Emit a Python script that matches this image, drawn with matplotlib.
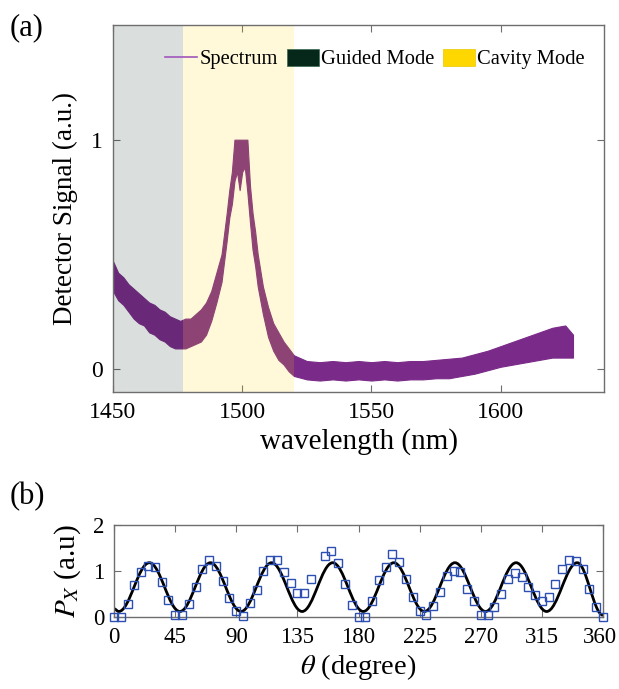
import numpy as np
import matplotlib
matplotlib.use("Agg")
import matplotlib.pyplot as plt
from matplotlib.lines import Line2D
from matplotlib.patches import Patch, PathPatch
from matplotlib.path import Path
from matplotlib.transforms import ScaledTranslation

plt.rcParams['font.family'] = ['Liberation Serif', 'DejaVu Serif']
plt.rcParams['mathtext.fontset'] = 'stix'

# ---- (a) spectrum: lower / upper edges of the noisy detector trace ----
wavelength = [1450, 1452, 1454, 1456, 1458, 1460, 1462, 1464, 1466, 1468,
              1470, 1472, 1474, 1476, 1478, 1480, 1482, 1484, 1486, 1488,
              1490, 1492, 1494, 1495, 1496, 1497, 1498, 1499, 1500, 1501,
              1502, 1503, 1504, 1505, 1506, 1508, 1510, 1512, 1514, 1516,
              1518, 1520, 1525, 1530, 1535, 1540, 1545, 1550, 1555, 1560,
              1565, 1570, 1575, 1580, 1585, 1590, 1595, 1600, 1605, 1610,
              1615, 1620, 1625, 1628]
signal_high = [0.47, 0.42, 0.40, 0.37, 0.35, 0.33, 0.31, 0.29, 0.28, 0.26,
               0.25, 0.23, 0.22, 0.21, 0.22, 0.22, 0.24, 0.26, 0.29, 0.34,
               0.42, 0.50, 0.68, 0.78, 0.86, 1.00, 1.00, 1.00, 1.00, 1.00,
               1.00, 0.80, 0.68, 0.60, 0.50, 0.36, 0.27, 0.20, 0.16, 0.12,
               0.09, 0.06, 0.035, 0.03, 0.035, 0.03, 0.035, 0.03, 0.035, 0.03,
               0.035, 0.035, 0.04, 0.045, 0.05, 0.065, 0.08, 0.10, 0.12, 0.14,
               0.16, 0.18, 0.19, 0.15]
signal_low = [0.34, 0.30, 0.28, 0.25, 0.22, 0.20, 0.19, 0.16, 0.15, 0.13,
              0.12, 0.10, 0.09, 0.09, 0.09, 0.10, 0.11, 0.12, 0.15, 0.21,
              0.29, 0.38, 0.56, 0.66, 0.72, 0.82, 0.86, 0.78, 0.86, 0.88,
              0.77, 0.64, 0.52, 0.45, 0.36, 0.24, 0.14, 0.08, 0.04, 0.02,
              -0.01, -0.03, -0.045, -0.05, -0.045, -0.05, -0.045, -0.05, -0.045, -0.05,
              -0.045, -0.045, -0.04, -0.04, -0.03, -0.02, -0.005, 0.01, 0.02, 0.03,
              0.04, 0.05, 0.05, 0.05]
guided_band = (1450, 1477)
cavity_band = (1477, 1520)

# ---- (b) polarisation dependence ----
theta = [0, 5, 10, 15, 20, 25, 30, 35, 40, 45,
         50, 55, 60, 65, 70, 75, 80, 85, 90, 95,
         100, 105, 110, 115, 120, 125, 130, 135, 140, 145,
         155, 160, 165, 170, 175, 180, 185, 190, 195,
         200, 205, 210, 215, 220, 225, 230, 235, 240, 245,
         250, 255, 260, 265, 270, 275, 280, 285, 290, 295,
         300, 305, 310, 315, 320, 325, 330, 335, 340, 345,
         350, 355, 360]
p_x = [0.00, 0.00, 0.28, 0.70, 0.98, 1.10, 1.08, 0.77, 0.38, 0.04,
       0.04, 0.28, 0.66, 1.05, 1.25, 1.10, 0.78, 0.42, 0.12, 0.02,
       0.30, 0.59, 1.00, 1.25, 1.25, 0.98, 0.73, 0.53, 0.52, 0.83,
       1.33, 1.44, 1.17, 0.72, 0.26, 0.00, 0.00, 0.35, 0.80,
       1.08, 1.37, 1.19, 0.82, 0.43, 0.12, 0.04, 0.25, 0.55, 0.89,
       1.00, 0.98, 0.60, 0.35, 0.04, 0.04, 0.21, 0.51, 0.82, 0.95,
       0.86, 0.65, 0.48, 0.35, 0.44, 0.72, 1.04, 1.24, 1.22, 1.04,
       0.60, 0.21, 0.00]
# turning points of the fitted curve
fit_theta = [0, 3.5, 26, 48.5, 71, 93.5, 116, 138.5, 161, 183.5, 206,
             228.5, 251, 273.5, 296, 318.5, 341, 360]
fit_p = [0.18, 0.12, 1.18, 0.12, 1.18, 0.12, 1.18, 0.12, 1.18, 0.12, 1.18,
         0.12, 1.18, 0.12, 1.18, 0.12, 1.18, 0.04]

W, H = 619, 689
fig = plt.figure(figsize=(W / 100, H / 100), dpi=100)
axis_grey = '#6e6e6e'


def style_axes(ax, size=17):
    for s in ax.spines.values():
        s.set_color(axis_grey)
        s.set_linewidth(1.0)
    ax.tick_params(direction='in', top=True, right=True, length=5,
                   width=0.8, color=axis_grey, labelsize=size, pad=7)


# ---------------- panel (a) ----------------
ax1 = fig.add_axes([113 / W, 1 - 392 / H, (604 - 113) / W, (392 - 25) / H])
purple = '#7a2a88'
ax1.fill_between(wavelength, signal_low, signal_high, color=purple,
                 lw=0.8, edgecolor=purple, zorder=1)
guided_col = '#06281a'
cavity_col = '#ffd700'
ax1.axvspan(*guided_band, color=guided_col, alpha=0.145, lw=0, zorder=2)
ax1.axvspan(*cavity_band, color=cavity_col, alpha=0.15, lw=0, zorder=2)
ax1.set_xlim(1450, 1640)
ax1.set_ylim(-0.1, 1.5)
ax1.set_xticks([1450, 1500, 1550, 1600])
ax1.set_yticks([0, 1])
style_axes(ax1)
ax1.set_xlabel('wavelength (nm)', fontsize=21, labelpad=4)
ax1.set_ylabel('Detector Signal (a.u.)', fontsize=19.5, labelpad=10)

handles = [Line2D([], [], color='#a055bb', lw=1.2),
           Patch(facecolor=guided_col, edgecolor='#3a6a50', lw=0.5),
           Patch(facecolor=cavity_col, edgecolor='#e8c800', lw=0.5)]
ax1.legend(handles, ['Spectrum', 'Guided Mode', 'Cavity Mode'], ncol=3,
           loc='center right', bbox_to_anchor=((585 - 113) / 491, 1 - 34 / 367),
           frameon=False, fontsize=14.8, handlelength=1.55, handleheight=0.9,
           handletextpad=0.12, columnspacing=0.42, borderpad=0, borderaxespad=0)

# ---------------- panel (b) ----------------
ax2 = fig.add_axes([114 / W, 1 - 617 / H, (603 - 114) / W, (617 - 525) / H])
ax2.plot(theta, p_x, 's', mfc='none', mec='#2d4fb2', ms=6, mew=1.0,
         clip_on=False, zorder=3)

k = 0.3634
verts = [(fit_theta[0], fit_p[0])]
codes = [Path.MOVETO]
for (x0, y0), (x1, y1) in zip(zip(fit_theta[:-1], fit_p[:-1]),
                              zip(fit_theta[1:], fit_p[1:])):
    dx = x1 - x0
    verts += [(x0 + k * dx, y0), (x1 - k * dx, y1), (x1, y1)]
    codes += [Path.CURVE4] * 3
ax2.add_patch(PathPatch(Path(verts, codes), fill=False, ec='black', lw=2.0,
                        zorder=2))
ax2.set_xlim(0, 360)
ax2.set_ylim(0, 2)
ax2.set_xticks(range(0, 361, 45))
ax2.set_yticks([0, 1, 2])
style_axes(ax2, size=16.5)
ax2.set_xlabel(r'$\theta$ (degree)', fontsize=20.5, labelpad=3)
ax2.set_ylabel(r'$P_X$ (a.u)', fontsize=21, labelpad=7)
# keep the last angle label inside the figure
last = ax2.get_xticklabels()[-1]
last.set_transform(last.get_transform() +
                   ScaledTranslation(-3 / 100, 0, fig.dpi_scale_trans))

fig.text(10 / W, 1 - 28 / H, '(a)', fontsize=22, va='center', ha='left')
fig.text(10 / W, 1 - 497 / H, '(b)', fontsize=22, va='center', ha='left')

fig.savefig('out.png', dpi=100)
